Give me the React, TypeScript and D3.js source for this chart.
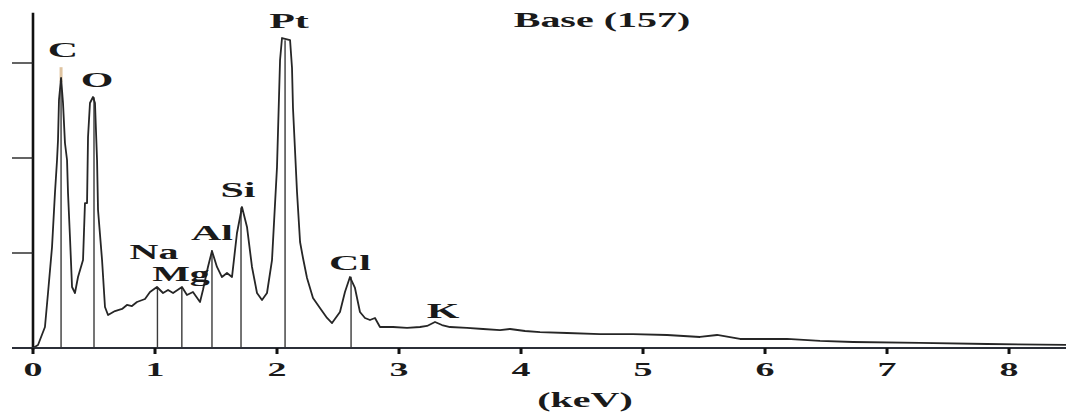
import * as d3 from "d3";

// spectrum: energy (keV) and counts
const energyKeV = [
  0, 0.041, 0.098, 0.123, 0.156, 0.18, 0.197, 0.205, 0.213, 0.23, 0.246, 0.262, 0.279, 0.287,
  0.303, 0.32, 0.344, 0.369, 0.41, 0.426, 0.443, 0.451, 0.467, 0.492, 0.508, 0.525, 0.533,
  0.566, 0.59, 0.615, 0.672, 0.73, 0.77, 0.811, 0.852, 0.918, 0.959, 1.016, 1.066, 1.107,
  1.148, 1.221, 1.262, 1.311, 1.369, 1.393, 1.434, 1.467, 1.508, 1.549, 1.59, 1.631, 1.672,
  1.713, 1.754, 1.795, 1.836, 1.877, 1.918, 1.959, 2.0, 2.025, 2.041, 2.107, 2.123, 2.131,
  2.164, 2.189, 2.213, 2.246, 2.295, 2.352, 2.41, 2.451, 2.516, 2.557, 2.598, 2.639, 2.68,
  2.721, 2.762, 2.803, 2.844, 2.951, 3.066, 3.172, 3.23, 3.295, 3.352, 3.418, 3.557, 3.689,
  3.828, 3.91, 4.033, 4.156, 4.377, 4.648, 4.918, 5.197, 5.467, 5.607, 5.795, 6.18, 6.451,
  6.721, 7.27, 7.82, 8.467,
];
const counts = [
  0, 32, 221, 579, 1063, 1632, 1979, 2189, 2611, 2842, 2579, 2158, 1979, 1632,
  1168, 642, 579, 747, 926, 1526, 1526, 2221, 2579, 2642, 2579, 1979, 1453,
  926, 432, 347, 389, 411, 453, 442, 484, 516, 589, 642, 579, 611,
  579, 642, 558, 589, 484, 611, 853, 1021, 853, 747, 789, 747, 1211,
  1484, 1274, 853, 579, 505, 579, 926, 1905, 3032, 3263, 3242, 2947, 2526,
  1642, 1116, 947, 737, 526, 421, 316, 263, 379, 589, 747, 632, 379,
  316, 295, 316, 221, 221, 211, 221, 232, 274, 242, 221, 211, 200,
  189, 200, 179, 168, 158, 147, 147, 137, 116, 137, 95, 95, 74,
  63, 53, 42, 32,
];

// element marker lines
const markerKeV = [0.23, 0.5, 1.02, 1.22, 1.467, 1.705, 2.066, 2.607];
const markerCounts = [2840, 2640, 640, 640, 1030, 1480, 3240, 750];

// element labels, anchored in data space
const labelNames = ["C", "O", "Na", "Mg", "Al", "Si", "Pt", "Cl", "K"];
const labelKeV = [0.246, 0.525, 0.992, 1.213, 1.467, 1.68, 2.098, 2.598, 3.361];
const labelCounts = [3063, 2747, 937, 705, 1137, 1589, 3368, 821, 316];

const xTicks = [0, 1, 2, 3, 4, 5, 6, 7, 8];
const yTicks = [1000, 2000, 3000];

const W = 1066;
const H = 413;
const FONT = "'Liberation Serif', 'Times New Roman', serif";

export default function App() {
  const x = d3.scaleLinear().domain([0, 8.467]).range([33, 1066]);
  const y = d3.scaleLinear().domain([0, 3000]).range([348, 63]);

  const pts: [number, number][] = energyKeV.map((e, i) => [e, counts[i]]);
  const line = d3
    .line<[number, number]>()
    .x(d => x(d[0]))
    .y(d => y(d[1]))
    .curve(d3.curveLinear);

  const wide = (cx: number, cy: number) => `translate(${cx},${cy}) scale(2,1)`;

  return (
    <svg
      width={W}
      height={H}
      viewBox={`0 0 ${W} ${H}`}
      style={{ position: "absolute", left: 0, top: 0, display: "block", background: "#fff" }}
    >
      {/* title */}
      <text
        transform={wide(602, 27)}
        textAnchor="middle"
        fontFamily={FONT}
        fontWeight="bold"
        fontSize={20}
        fill="#1a1a1a"
      >
        Base (157)
      </text>

      {/* faint tip above the C marker */}
      <line
        x1={x(markerKeV[0])}
        x2={x(markerKeV[0])}
        y1={y(markerCounts[0]) + 4}
        y2={y(markerCounts[0]) - 11}
        stroke="#d8b68a"
        strokeWidth={3}
        opacity={0.8}
      />

      {/* marker lines */}
      {markerKeV.map((e, i) => (
        <line
          key={"m" + i}
          x1={x(e)}
          x2={x(e)}
          y1={y(0)}
          y2={y(markerCounts[i])}
          stroke="#3a3a3a"
          strokeWidth={1.4}
        />
      ))}

      {/* spectrum */}
      <path d={line(pts) ?? ""} fill="none" stroke="#262626" strokeWidth={1.8} strokeLinejoin="round" />

      {/* y axis */}
      <line x1={x(0)} x2={x(0)} y1={y(0) + 2} y2={y(3530)} stroke="#111" strokeWidth={2.6} />
      {yTicks.map(t => (
        <line key={"yt" + t} x1={12} x2={x(0)} y1={y(t)} y2={y(t)} stroke="#222" strokeWidth={1.4} />
      ))}

      {/* x axis */}
      <line x1={12} x2={W} y1={y(0)} y2={y(0)} stroke="#2b2f38" strokeWidth={2} />
      {xTicks.map(t => (
        <g key={"xt" + t}>
          <line x1={x(t)} x2={x(t)} y1={y(0)} y2={y(0) + 6} stroke="#111" strokeWidth={3} />
          <text
            transform={wide(x(t), 376)}
            textAnchor="middle"
            fontFamily={FONT}
            fontWeight="bold"
            fontSize={19}
            fill="#1a1a1a"
          >
            {t}
          </text>
        </g>
      ))}
      <text
        transform={wide(585, 407)}
        textAnchor="middle"
        fontFamily={FONT}
        fontWeight="bold"
        fontSize={20}
        fill="#1a1a1a"
      >
        (keV)
      </text>

      {/* element labels */}
      {labelNames.map((n, i) => (
        <text
          key={"l" + n}
          transform={wide(x(labelKeV[i]), y(labelCounts[i]))}
          textAnchor="middle"
          fontFamily={FONT}
          fontWeight="bold"
          fontSize={n === "Na" || n === "Mg" ? 20 : 21}
          fill="#1a1a1a"
        >
          {n}
        </text>
      ))}
    </svg>
  );
}
